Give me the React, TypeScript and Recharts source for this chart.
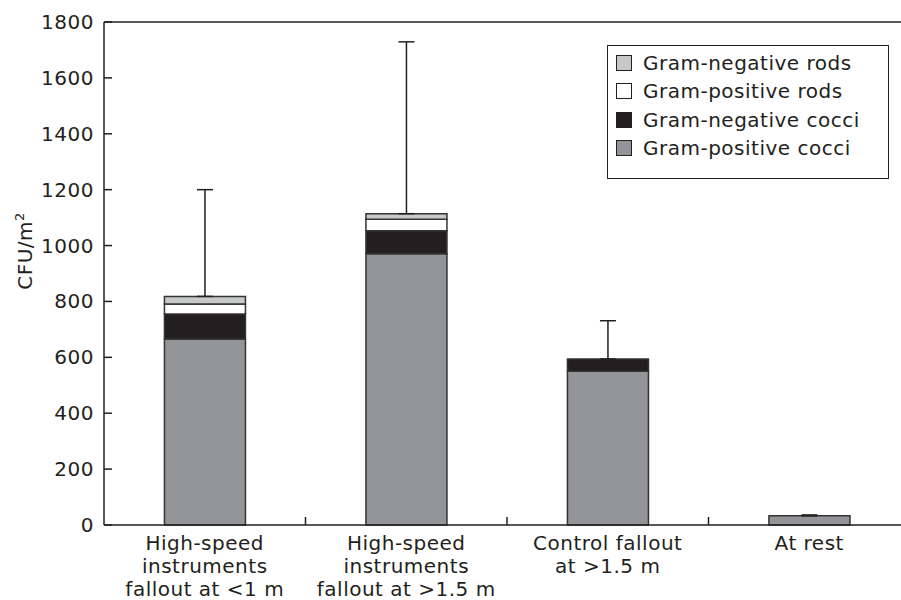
import React from 'react';
import { BarChart, Bar, XAxis, YAxis, ErrorBar, ReferenceLine, Legend } from 'recharts';

// categories (x axis, one label line per entry)
const categoryLines = [
  ['High-speed', 'instruments', 'fallout at <1 m'],
  ['High-speed', 'instruments', 'fallout at >1.5 m'],
  ['Control fallout', 'at >1.5 m'],
  ['At rest'],
];
const categoryKeys = ['hs1', 'hs15', 'control', 'rest'];

// CFU/m2 per group, stacked bottom to top
const gramPositiveCocci = [666, 971, 550, 33];
const gramNegativeCocci = [89, 82, 44, 0];
const gramPositiveRods = [36, 41, 0, 0];
const gramNegativeRods = [27, 20, 0, 0];
// upper error above the stack total
const upperError = [382, 615, 137, 3];

const yTicks = [0, 200, 400, 600, 800, 1000, 1200, 1400, 1600, 1800];

const INK = '#231f20';
const FONT = 'DejaVu Sans';
const FS = 20;
const LS = 0.5;

const series = [
  { key: 'gpc', name: 'Gram-positive cocci', fill: '#939598', values: gramPositiveCocci },
  { key: 'gnc', name: 'Gram-negative cocci', fill: '#231f20', values: gramNegativeCocci },
  { key: 'gpr', name: 'Gram-positive rods', fill: '#ffffff', values: gramPositiveRods },
  { key: 'gnr', name: 'Gram-negative rods', fill: '#c7c8ca', values: gramNegativeRods },
];

// the error bar sits on whichever series is on top of each stack
const data = categoryKeys.map((k, i) => {
  const row: any = { name: k };
  let top = 0;
  series.forEach((s, j) => {
    row[s.key] = s.values[i];
    if (s.values[i] > 0) top = j;
  });
  row['err_' + series[top].key] = [0, upperError[i]];
  return row;
});

const CHART_W = 920;
const CHART_H = 600;
const PLOT_LEFT = 104;
const PLOT_RIGHT = 910;
const PLOT_TOP = 22;
const PLOT_BOTTOM = 525;
const CAT_W = (PLOT_RIGHT - PLOT_LEFT) / categoryKeys.length;

const XTick = (props: any) => {
  const { x, index } = props;
  const lines = categoryLines[index] || [];
  return (
    <g>
      {index < categoryKeys.length - 1 && (
        <line x1={x + CAT_W / 2} x2={x + CAT_W / 2} y1={PLOT_BOTTOM} y2={PLOT_BOTTOM - 8} stroke={INK} strokeWidth={1.5} />
      )}
      <text textAnchor="middle" fontFamily={FONT} fontSize={FS} letterSpacing={LS} fill={INK}>
        {lines.map((l, j) => (
          <tspan key={j} x={x} y={PLOT_BOTTOM + 25 + j * 23}>{l}</tspan>
        ))}
      </text>
    </g>
  );
};

const YTick = (props: any) => {
  const { y, payload } = props;
  return (
    <g>
      <line x1={PLOT_LEFT} x2={PLOT_LEFT + 8} y1={y} y2={y} stroke={INK} strokeWidth={1.5} />
      <text x={PLOT_LEFT - 10} y={y + 7} textAnchor="end" fontFamily={FONT} fontSize={FS} letterSpacing={LS} fill={INK}>
        {payload.value}
      </text>
    </g>
  );
};

const YLabel = () => (
  <text transform="rotate(-90)" x={-251} y={32} textAnchor="middle" fontFamily={FONT} fontSize={FS} letterSpacing={LS} fill={INK}>
    CFU/m<tspan dy={-8} fontSize={13}>2</tspan>
  </text>
);

const LegendBox = () => (
  <div style={{ border: `1px solid ${INK}`, width: 272, height: 129, padding: '3px 0 0 8px', boxSizing: 'content-box', background: '#fff' }}>
    {[...series].reverse().map((s) => (
      <div key={s.key} style={{ display: 'flex', alignItems: 'center', height: 28.3, fontFamily: FONT, fontSize: FS, letterSpacing: LS, color: INK, whiteSpace: 'nowrap' }}>
        <span style={{ width: 14, height: 14, border: `1px solid ${INK}`, background: s.fill, marginRight: 11, display: 'inline-block', flex: 'none' }} />
        {s.name}
      </div>
    ))}
  </div>
);

export default function App() {
  return (
    <div style={{ position: 'absolute', left: 0, top: 0, width: 901, height: 600, overflow: 'hidden', background: '#fff' }}>
      <BarChart
        width={CHART_W}
        height={CHART_H}
        data={data}
        margin={{ top: PLOT_TOP, right: CHART_W - PLOT_RIGHT, left: 0, bottom: 0 }}
        barCategoryGap="30%"
      >
        <XAxis
          dataKey="name"
          height={CHART_H - PLOT_BOTTOM}
          tickLine={false}
          tick={<XTick />}
          axisLine={{ stroke: INK, strokeWidth: 1.5 }}
          interval={0}
        />
        <YAxis
          width={PLOT_LEFT}
          domain={[0, 1800]}
          ticks={yTicks}
          tickLine={false}
          tick={<YTick />}
          axisLine={{ stroke: INK, strokeWidth: 1.5 }}
          label={<YLabel />}
        />
        <ReferenceLine y={1800} stroke={INK} strokeWidth={1.5} />
        <Legend
          layout="vertical"
          align="center"
          verticalAlign="middle"
          content={<LegendBox />}
          wrapperStyle={{ left: 607, top: 45, width: 'auto', height: 'auto' }}
        />
        {series.map((s) => (
          <Bar
            key={s.key}
            dataKey={s.key}
            name={s.name}
            stackId="a"
            fill={s.fill}
            stroke="#333"
            strokeWidth={1.5}
            isAnimationActive={false}
          >
            <ErrorBar dataKey={'err_' + s.key} direction="y" width={8} stroke={INK} strokeWidth={1.5} />
          </Bar>
        ))}
      </BarChart>
    </div>
  );
}
